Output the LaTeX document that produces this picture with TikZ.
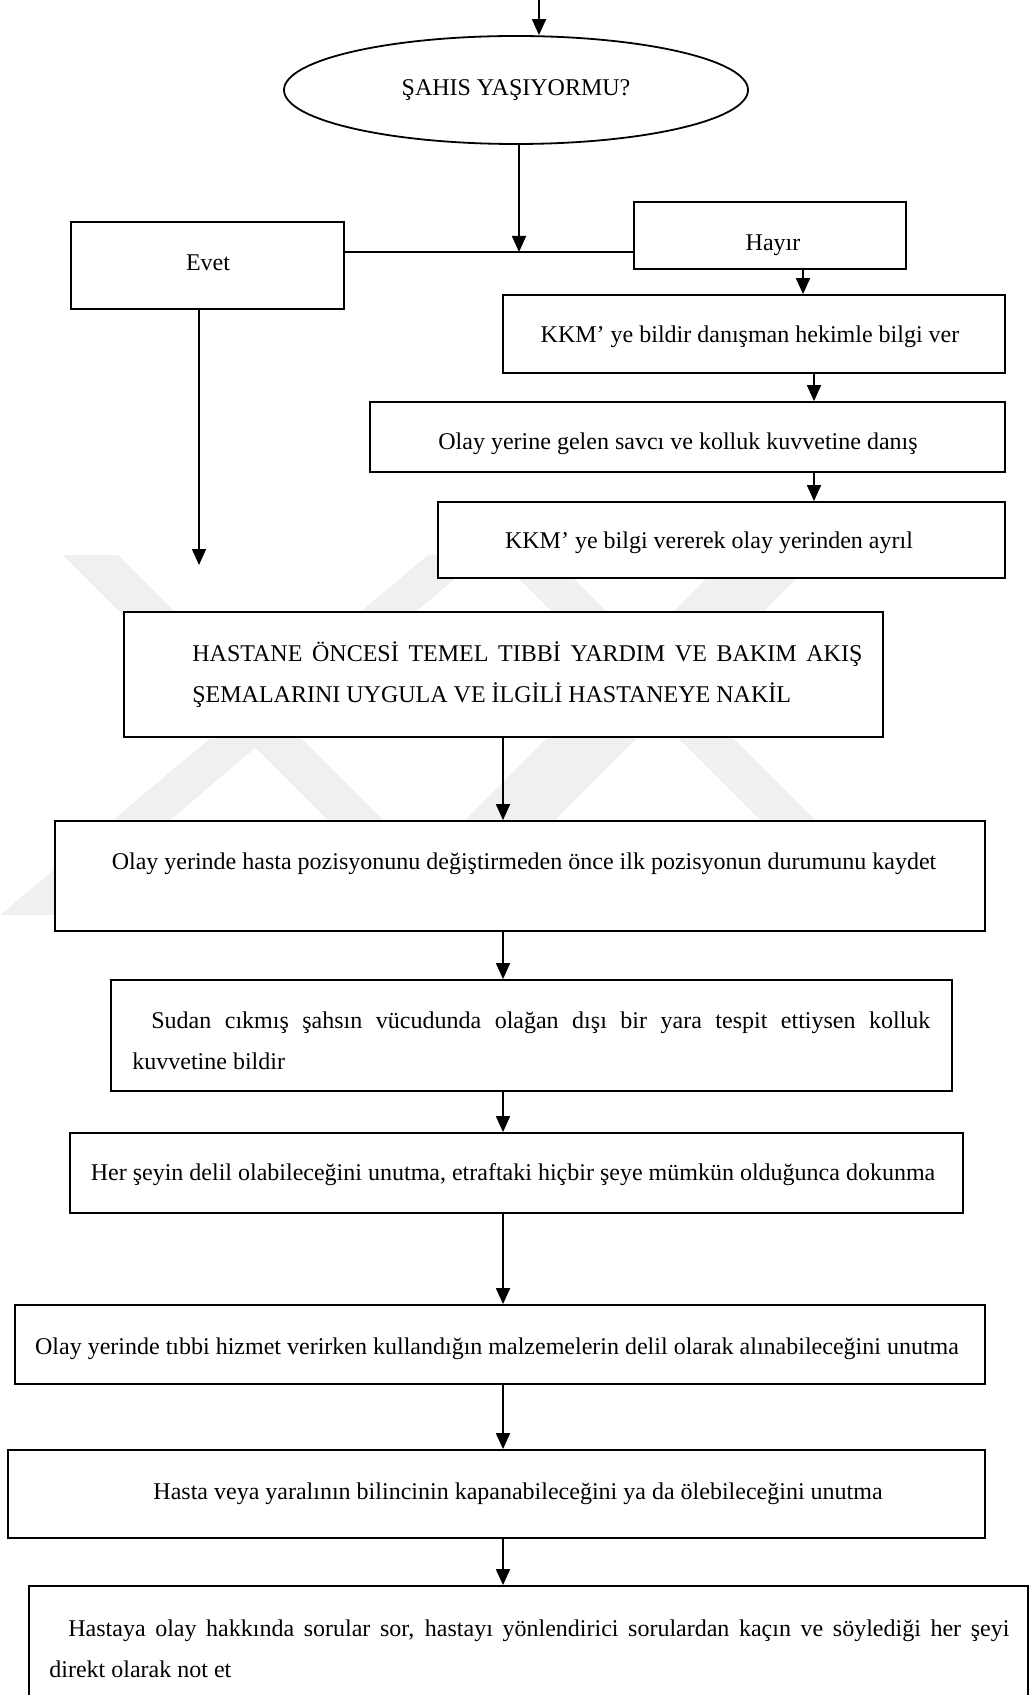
\documentclass[tikz,border=0pt]{standalone}
\usepackage{fontspec}
\setmainfont{Liberation Serif}
\usetikzlibrary{arrows.meta,shapes.geometric}

% a box given by its left, top, right and bottom edges
\newcommand{\flowbox}[5]{%
  \node[box, minimum width={0.5pt*(#4-#2)}, minimum height={0.5pt*(#5-#3)}]
    (#1) at ({(#2+#4)/2},{(#3+#5)/2}) {};}

\begin{document}
\begin{tikzpicture}[x=0.5pt,y=-0.5pt,
  box/.style={draw, fill=white, line width=0.9pt, inner sep=0pt},
  arr/.style={line width=0.9pt, -{Triangle[width=7pt,length=8pt]}},
  lbl/.style={inner sep=0pt, font=\fontsize{12}{20.5}\selectfont},
  mark band/.style={fill=black!6, draw=none},
]
\useasboundingbox (0,0) rectangle (1036,1695);
\clip (0,0) rectangle (1036,1695);

% pale background emblem behind the boxes
\fill[mark band] (63,555) -- (118,555) -- (463,900) -- (408,900) -- cycle;
\fill[mark band] (428,555) -- (483,555) -- (58,915) -- (0,915) -- cycle;
\fill[mark band] (730,555) -- (820,555) -- (475,900) -- (385,900) -- cycle;
\fill[mark band] (495,555) -- (550,555) -- (895,900) -- (840,900) -- cycle;

% decision
\node[draw, ellipse, line width=0.9pt, fill=white, minimum width=232pt,
      minimum height=54pt, inner sep=0pt, lbl] (q) at (516,90) {ŞAHIS YAŞIYORMU?};

% boxes
\flowbox{evet}{71}{222}{344}{309}
\flowbox{hayir}{634}{202}{906}{269}
\flowbox{kkmA}{503}{295}{1005}{373}
\flowbox{savci}{370}{402}{1005}{472}
\flowbox{kkmB}{438}{502}{1005}{578}
\flowbox{hastane}{124}{612}{883}{737}
\flowbox{kayit}{55}{821}{985}{931}
\flowbox{yara}{111}{980}{952}{1091}
\flowbox{delil}{70}{1133}{963}{1213}
\flowbox{malz}{15}{1305}{985}{1384}
\flowbox{bilinc}{8}{1450}{985}{1538}
\flowbox{soru}{29}{1586}{1028}{1760}

% texts
\node[lbl] (tevet) at (208,263) {Evet};
\node[lbl] (thayir) at (773,245) {Hayır};
\node[lbl] (tkkmA) at (750,337) {KKM’ ye bildir danışman hekimle bilgi ver};
\node[lbl] (tsavci) at (678,444) {Olay yerine gelen savcı ve kolluk kuvvetine danış};
\node[lbl] (tkkmB) at (709,543) {KKM’ ye bilgi vererek olay yerinden ayrıl};
\node[lbl, align=left, anchor=base west] (thastane) at (192,702)
  {\makebox[335pt][s]{HASTANE ÖNCESİ TEMEL TIBBİ YARDIM VE BAKIM AKIŞ}\\
   ŞEMALARINI UYGULA VE İLGİLİ HASTANEYE NAKİL};
\node[lbl] (tkayit) at (524,864)
  {Olay yerinde hasta pozisyonunu değiştirmeden önce ilk pozisyonun durumunu kaydet};
\node[lbl, align=left, anchor=base west] (tyara) at (132,1069)
  {\hspace*{9.5pt}\makebox[389.5pt][s]{Sudan cıkmış şahsın vücudunda olağan dışı bir yara tespit ettiysen kolluk}\\
   kuvvetine bildir};
\node[lbl] (tdelil) at (513,1175)
  {Her şeyin delil olabileceğini unutma, etraftaki hiçbir şeye mümkün olduğunca dokunma};
\node[lbl] (tmalz) at (497,1349)
  {Olay yerinde tıbbi hizmet verirken kullandığın malzemelerin delil olarak alınabileceğini unutma};
\node[lbl] (tbilinc) at (518,1494)
  {Hasta veya yaralının bilincinin kapanabileceğini ya da ölebileceğini unutma};
\node[lbl, align=left, anchor=base west] (tsoru) at (49,1677)
  {\hspace*{9.5pt}\makebox[470.5pt][s]{Hastaya olay hakkında sorular sor, hastayı yönlendirici sorulardan kaçın ve söylediği her şeyi}\\
   direkt olarak not et};

% arrow columns
\coordinate (ctop) at (539,-10);
\coordinate (j) at (519,252);
\coordinate (ch) at (803,0);
\coordinate (cr) at (814,0);
\coordinate (eend) at (199,565);
\coordinate (cm) at (503,0);

% connectors
\draw[arr] (ctop) -- (q.north -| ctop);
\draw[arr] (q.south -| j) -- (j);
\draw[line width=0.9pt] (evet.east |- j) -- (hayir.west |- j);
\draw[arr] (hayir.south -| ch) -- (kkmA.north -| ch);
\draw[arr] (kkmA.south -| cr) -- (savci.north -| cr);
\draw[arr] (savci.south -| cr) -- (kkmB.north -| cr);
\draw[arr] (evet.south -| eend) -- (eend);
\draw[arr] (hastane.south -| cm) -- (kayit.north -| cm);
\draw[arr] (kayit.south -| cm) -- (yara.north -| cm);
\draw[arr] (yara.south -| cm) -- (delil.north -| cm);
\draw[arr] (delil.south -| cm) -- (malz.north -| cm);
\draw[arr] (malz.south -| cm) -- (bilinc.north -| cm);
\draw[arr] (bilinc.south -| cm) -- (soru.north -| cm);
\end{tikzpicture}
\end{document}
